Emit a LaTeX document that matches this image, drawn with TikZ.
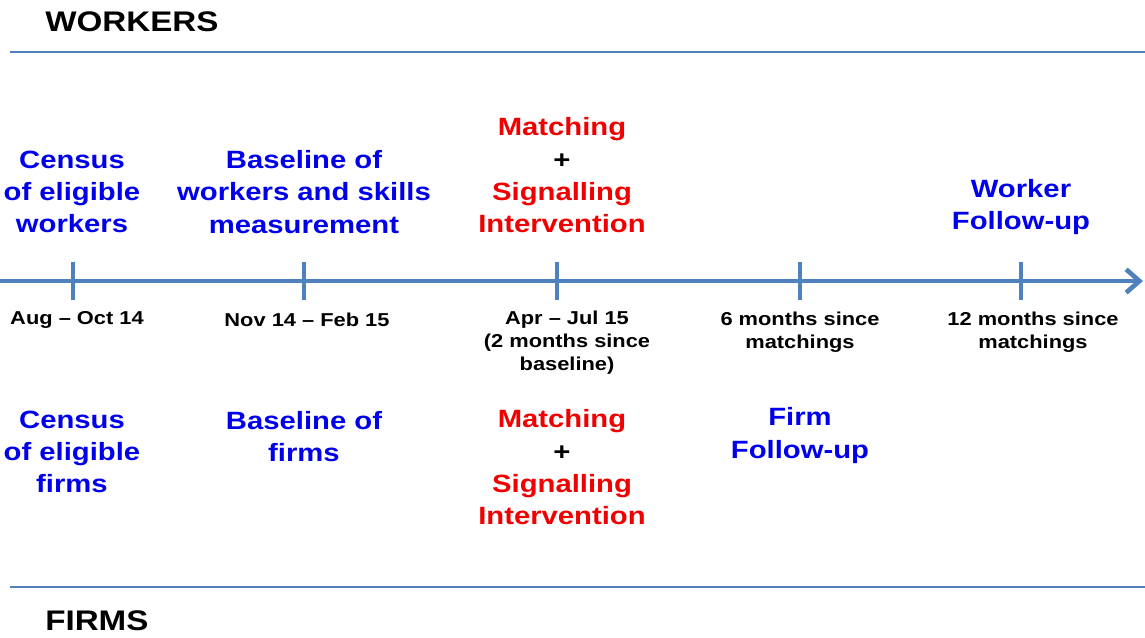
\documentclass[tikz,border=0pt]{standalone}
\usepackage{fontspec}
\setmainfont{Liberation Sans}
\newfontfamily\widefont[FakeStretch=1.17,Ligatures=TeX]{Liberation Sans}
\usepackage{xcolor}
\usetikzlibrary{arrows.meta}

\definecolor{axisblue}{RGB}{79,129,189}
\definecolor{txtblue}{RGB}{0,0,235}
\definecolor{txtred}{RGB}{240,0,0}

\tikzset{
  phase/.style={align=center,inner sep=0pt,text=txtblue,font=\widefont\bfseries\fontsize{15}{19.4}\selectfont},
  treat/.style={phase,text=txtred},
  when/.style={align=center,inner sep=0pt,font=\widefont\bfseries\fontsize{11.2}{13.8}\selectfont},
  side/.style={anchor=west,inner sep=0pt,font=\widefont\bfseries\fontsize{17}{20}\selectfont},
  rule/.style={axisblue,line width=1.1pt},
  tick/.style={axisblue,line width=2.6pt}
}

\begin{document}
\begin{tikzpicture}[x=0.6pt,y=-0.6pt]
        \useasboundingbox (0,0) rectangle (1145,638);
        % side headings and rules
        \node[side] (workers) at (45,22) {WORKERS};
        \node[side] (firms) at (45,621) {FIRMS};
        \coordinate (topL) at (10,52);
        \coordinate (topR) at (1145,52);
        \coordinate (botL) at (10,587);
        \coordinate (botR) at (1145,587);
        \draw[rule] (topL) -- (topR);
        \draw[rule] (botL) -- (botR);
        % time axis
        \coordinate (start) at (0,281);
        \coordinate (end) at (1143,281);
        \draw[axisblue,line width=2.8pt,-{Straight Barb[length=8pt,width=14pt,line width=2.8pt]}] (start) -- (end);
        \foreach \name/\x in {census/73,base/304,match/557,fup/800,wfup/1021}{
            \coordinate (\name) at (\x,281);
            \draw[tick] (\x,262) -- (\x,300);
        }
        % dates
        \node[when] (d1) at (77,320) {Aug -- Oct 14};
        \node[when] (d2) at (307,320) {Nov 14 -- Feb 15};
        \node[when] (d3) at (567,343) {Apr -- Jul 15\\(2 months since\\baseline)};
        \node[when] (d4) at (800,332) {6 months since\\matchings};
        \node[when] (d5) at (1033,332) {12 months since\\matchings};
        % workers
        \node[phase] (wcensus) at (72,192) {Census\\of eligible\\workers};
        \node[phase] (wbase) at (304,192) {Baseline of\\workers and skills\\measurement};
        \node[treat] (wmatch) at (562,175.5) {Matching\\\textcolor{black}{+}\\Signalling\\Intervention};
        \node[phase] (wfollow) at (1021,207) {Worker\\Follow-up};
        % firms
        \node[phase] (fcensus) at (72,452) {Census\\of eligible\\firms};
        \node[phase] (fbase) at (304,436.5) {Baseline of\\firms};
        \node[treat] (fmatch) at (562,467.5) {Matching\\\textcolor{black}{+}\\Signalling\\Intervention};
        \node[phase] (ffollow) at (800,435.5) {Firm\\Follow-up};
\end{tikzpicture}
\end{document}
